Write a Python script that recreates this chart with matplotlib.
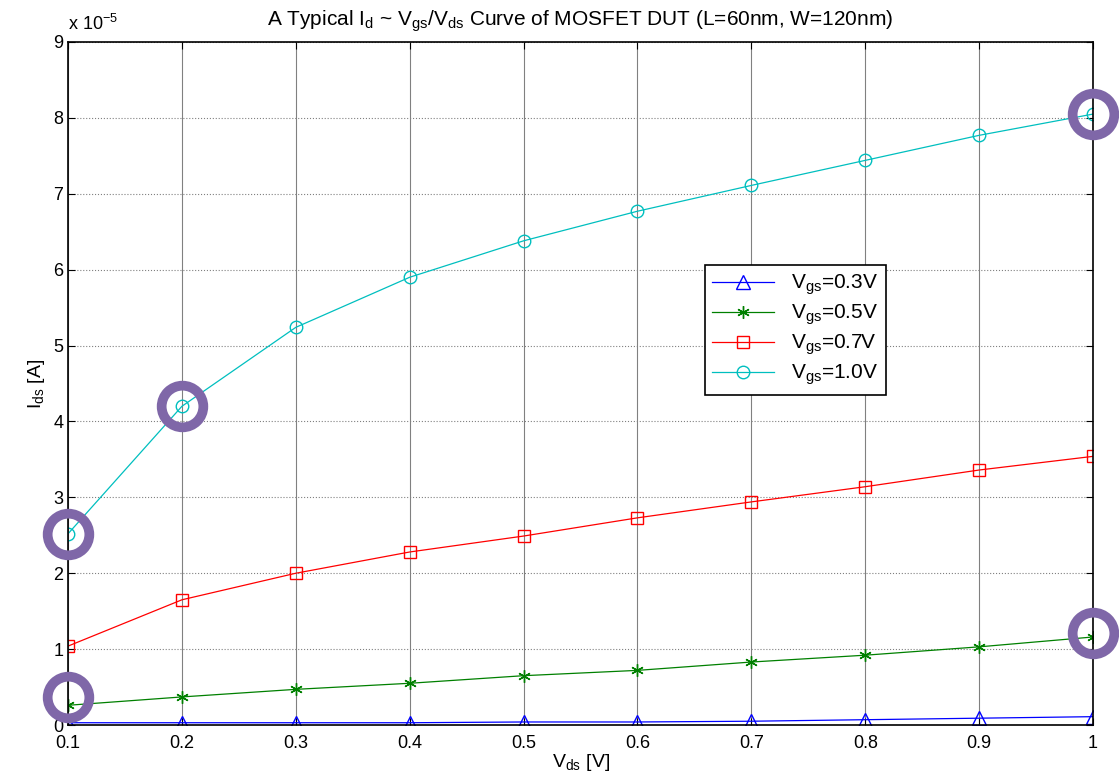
import matplotlib.pyplot as plt

plt.rcParams["font.family"] = ["Liberation Sans", "DejaVu Sans"]

vds = [0.1, 0.2, 0.3, 0.4, 0.5, 0.6, 0.7, 0.8, 0.9, 1.0]
ids_03 = [0.03e-5, 0.03e-5, 0.03e-5, 0.03e-5, 0.04e-5, 0.04e-5, 0.05e-5, 0.07e-5, 0.09e-5, 0.11e-5]
ids_05 = [0.26e-5, 0.37e-5, 0.47e-5, 0.55e-5, 0.65e-5, 0.72e-5, 0.83e-5, 0.92e-5, 1.03e-5, 1.16e-5]
ids_07 = [1.04e-5, 1.65e-5, 2.00e-5, 2.28e-5, 2.49e-5, 2.73e-5, 2.94e-5, 3.14e-5, 3.36e-5, 3.54e-5]
ids_10 = [2.52e-5, 4.20e-5, 5.24e-5, 5.90e-5, 6.38e-5, 6.77e-5, 7.11e-5, 7.44e-5, 7.77e-5, 8.05e-5]

# highlighted points (purple rings)
mark_x = [0.1, 0.2, 0.1, 1.0, 1.0]
mark_y = [2.52e-5, 4.20e-5, 0.37e-5, 8.05e-5, 1.21e-5]

yticks = [i * 1e-5 for i in range(10)]
ytick_labels = [str(i) for i in range(10)]
xtick_labels = ["0.1", "0.2", "0.3", "0.4", "0.5", "0.6", "0.7", "0.8", "0.9", "1"]

fig = plt.figure(figsize=(11.19, 7.76), dpi=100)
ax = fig.add_axes([0.0608, 0.0657, 0.916, 0.8802])

ax.plot(vds, ids_03, color="#0000ff", marker="^", markersize=10, markerfacecolor="none", linewidth=0.9,
        label="V$_{\\mathregular{gs}}$=0.3V")
ax.plot(vds, ids_05, color="#008000", marker=(6, 2, 0), markersize=9, linewidth=0.9,
        label="V$_{\\mathregular{gs}}$=0.5V")
ax.plot(vds, ids_07, color="#ff0000", marker="s", markersize=9, markerfacecolor="none", linewidth=0.9,
        label="V$_{\\mathregular{gs}}$=0.7V")
ax.plot(vds, ids_10, color="#00bfbf", marker="o", markersize=9, markerfacecolor="none", linewidth=0.9,
        label="V$_{\\mathregular{gs}}$=1.0V")

ax.plot(mark_x, mark_y, linestyle="none", marker="o", markersize=30, markerfacecolor="none",
        markeredgecolor="#7f67a8", markeredgewidth=7, clip_on=False, zorder=5)

ax.set_xlim(0.1, 1.0)
ax.set_ylim(0, 9e-5)
ax.set_xticks(vds)
ax.set_xticklabels(xtick_labels)
ax.set_yticks(yticks)
ax.set_yticklabels(ytick_labels)
ax.text(0.0, 1.012, "x 10$^{\\mathregular{-5}}$", transform=ax.transAxes, fontsize=13, ha="left", va="bottom")

ax.xaxis.grid(True, color="#808080", linestyle="-", linewidth=0.8)
ax.yaxis.grid(True, color="#808080", linestyle=":", linewidth=0.8)
ax.tick_params(direction="in", top=True, right=True, labelsize=13, length=5)
ax.tick_params(axis="x", pad=7)
for s in ax.spines.values():
    s.set_linewidth(1.2)

ax.set_title("A Typical I$_{\\mathregular{d}}$ ~ V$_{\\mathregular{gs}}$/V$_{\\mathregular{ds}}$ Curve of MOSFET DUT (L=60nm, W=120nm)",
             fontsize=15, pad=12)
ax.set_xlabel("V$_{\\mathregular{ds}}$ [V]", fontsize=14, labelpad=0)
ax.set_ylabel("I$_{\\mathregular{ds}}$ [A]", fontsize=14, labelpad=4)

leg = ax.legend(loc="upper left", bbox_to_anchor=(0.621, 0.673), borderaxespad=0, fontsize=15, fancybox=False,
                framealpha=1, edgecolor="black", borderpad=0.35, labelspacing=0.25, handlelength=3.0)
leg.get_frame().set_linewidth(1.2)

fig.savefig("out.png", dpi=100)
